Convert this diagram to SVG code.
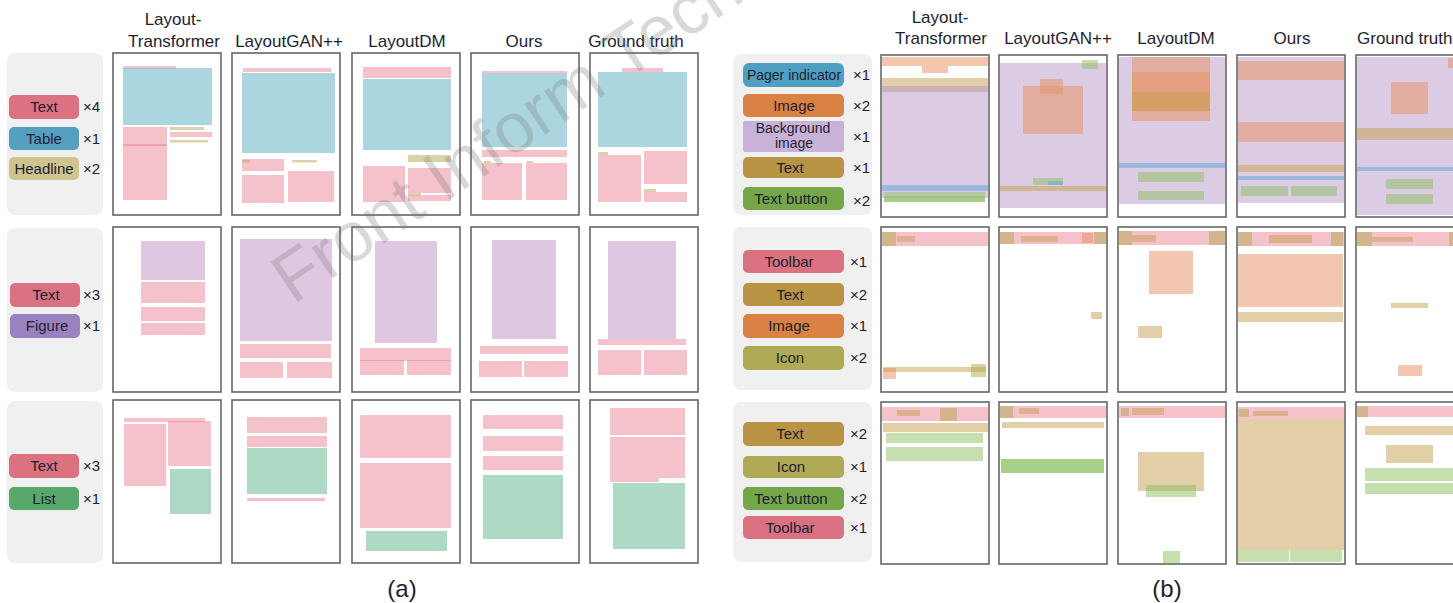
<svg xmlns="http://www.w3.org/2000/svg" width="1453" height="603" viewBox="0 0 1453 603">
<style>
text{font-family:"Liberation Sans",Arial,sans-serif;fill:#1e1e30}
.hd{font-size:17px;text-anchor:middle}
.lb{font-size:15px;text-anchor:middle}
.mx{font-size:15px}
.cap{font-size:24px;text-anchor:middle}
.lg{fill:#f0f0f0}
.fr{fill:#fff}
.fo{fill:none;stroke:#666;stroke-width:1.6}
.t{fill:#e8758a;fill-opacity:.45}
.tb{fill:#5aaec0;fill-opacity:.5}
.hl{fill:#b8a850;fill-opacity:.5}
.fg{fill:#c090c4;fill-opacity:.5}
.ls{fill:#5cb48c;fill-opacity:.5}
.bg{fill:#b898c8;fill-opacity:.5}
.im{fill:#e89060;fill-opacity:.5}
.tx{fill:#c8a050;fill-opacity:.5}
.pg{fill:#6aa8e0;fill-opacity:.55}
.bt{fill:#8cc060;fill-opacity:.5}
.ic{fill:#b0a850;fill-opacity:.5}
.pT{fill:#db7282}.pTb{fill:#559fc1}.pH{fill:#cfc48d}.pF{fill:#9a82c0}.pL{fill:#58a86c}
.pP{fill:#4f9fc2}.pI{fill:#d98244}.pB{fill:#c8b2d8}.pX{fill:#b89444}.pBt{fill:#76a64a}.pIc{fill:#aeaa56}
.wm{font-size:70px;fill:#777;fill-opacity:.28}
</style>

<!-- Column titles -->
<g id="titles">
<text class="hd" x="173" y="25">Layout-</text>
<text class="hd" x="174" y="47">Transformer</text>
<text class="hd" x="289" y="47">LayoutGAN++</text>
<text class="hd" x="407" y="47">LayoutDM</text>
<text class="hd" x="524" y="47">Ours</text>
<text class="hd" x="636" y="47">Ground truth</text>
<text class="hd" x="940" y="23">Layout-</text>
<text class="hd" x="941" y="44">Transformer</text>
<text class="hd" x="1058" y="44">LayoutGAN++</text>
<text class="hd" x="1176" y="44">LayoutDM</text>
<text class="hd" x="1292" y="44">Ours</text>
<text class="hd" x="1357" y="44" style="text-anchor:start">Ground truth</text>
</g>

<!-- ===== Panel (a) ===== -->
<g id="a-legend-1">
<rect class="lg" x="7" y="53" width="96" height="162" rx="8"/>
<rect class="pT" x="9" y="95" width="70" height="24" rx="5"/><text class="lb" x="44" y="112">Text</text><text class="mx" x="83" y="112">×4</text>
<rect class="pTb" x="9" y="127" width="70" height="23" rx="5"/><text class="lb" x="44" y="144">Table</text><text class="mx" x="83" y="144">×1</text>
<rect class="pH" x="9" y="157" width="70" height="23" rx="5"/><text class="lb" x="44" y="174">Headline</text><text class="mx" x="83" y="174">×2</text>
</g>
<g id="a-legend-2">
<rect class="lg" x="7" y="228" width="96" height="164" rx="8"/>
<rect class="pT" x="10" y="283" width="70" height="24" rx="5"/><text class="lb" x="46" y="300">Text</text><text class="mx" x="83" y="300">×3</text>
<rect class="pF" x="10" y="314" width="70" height="24" rx="5"/><text class="lb" x="47" y="331">Figure</text><text class="mx" x="83" y="331">×1</text>
</g>
<g id="a-legend-3">
<rect class="lg" x="7" y="401" width="96" height="162" rx="8"/>
<rect class="pT" x="9" y="454" width="70" height="24" rx="5"/><text class="lb" x="44" y="471">Text</text><text class="mx" x="83" y="471">×3</text>
<rect class="pL" x="9" y="487" width="70" height="23" rx="5"/><text class="lb" x="44" y="504">List</text><text class="mx" x="83" y="504">×1</text>
</g>

<!-- Row 1 (a) -->
<g id="a-r1-c1">
<rect class="fr" x="113" y="53" width="108" height="162"/>
<rect class="t" x="123" y="66" width="53" height="3"/>
<rect class="tb" x="123" y="68" width="89" height="57"/>
<rect class="t" x="123" y="127" width="44" height="19"/>
<rect class="t" x="123" y="144" width="44" height="56"/>
<rect class="hl" x="170" y="127" width="34" height="3"/>
<rect class="t" x="170" y="132" width="42" height="5"/>
<rect class="hl" x="170" y="140" width="38" height="2.5"/>
<rect class="fo" x="113" y="53" width="108" height="162"/>
</g>
<g id="a-r1-c2">
<rect class="fr" x="232" y="53" width="108" height="162"/>
<rect class="t" x="243" y="68" width="88" height="4"/>
<rect class="tb" x="242" y="73" width="93" height="80"/>
<rect class="t" x="242" y="159" width="42" height="12"/>
<rect class="hl" x="242" y="160" width="8" height="2.5"/>
<rect class="hl" x="292" y="160" width="25" height="2.5"/>
<rect class="t" x="242" y="175" width="42" height="28"/>
<rect class="t" x="288" y="171" width="46" height="31"/>
<rect class="fo" x="232" y="53" width="108" height="162"/>
</g>
<g id="a-r1-c3">
<rect class="fr" x="352" y="53" width="108" height="162"/>
<rect class="t" x="363" y="67" width="88" height="11"/>
<rect class="tb" x="363" y="79" width="88" height="71"/>
<rect class="hl" x="408" y="155" width="43" height="7"/>
<rect class="t" x="363" y="166" width="42" height="36"/>
<rect class="t" x="408" y="168" width="43" height="25"/>
<rect class="hl" x="408" y="193" width="13" height="2.5"/>
<rect class="t" x="408" y="195" width="43" height="6"/>
<rect class="fo" x="352" y="53" width="108" height="162"/>
</g>
<g id="a-r1-c4">
<rect class="fr" x="471" y="53" width="108" height="162"/>
<rect class="t" x="482" y="71" width="85" height="2"/>
<rect class="tb" x="482" y="73" width="85" height="74"/>
<rect class="t" x="482" y="150" width="85" height="7"/>
<rect class="hl" x="484" y="161" width="7" height="2"/>
<rect class="hl" x="527" y="161" width="6" height="2"/>
<rect class="t" x="482" y="163" width="40" height="37"/>
<rect class="t" x="526" y="163" width="41" height="37"/>
<rect class="fo" x="471" y="53" width="108" height="162"/>
</g>
<g id="a-r1-c5">
<rect class="fr" x="590" y="53" width="108" height="162"/>
<rect class="t" x="622" y="68" width="41" height="4"/>
<rect class="tb" x="598" y="72" width="89" height="75"/>
<rect class="hl" x="598" y="152" width="10" height="3"/>
<rect class="t" x="598" y="155" width="43" height="47"/>
<rect class="t" x="644" y="151" width="43" height="33"/>
<rect class="hl" x="644" y="189" width="12" height="3"/>
<rect class="t" x="644" y="192" width="43" height="10"/>
<rect class="fo" x="590" y="53" width="108" height="162"/>
</g>

<!-- Row 2 (a) -->
<g id="a-r2-c1">
<rect class="fr" x="113" y="227" width="108" height="165"/>
<rect class="fg" x="141" y="241" width="64" height="39"/>
<rect class="t" x="141" y="282" width="64" height="21"/>
<rect class="t" x="141" y="307" width="64" height="14"/>
<rect class="t" x="141" y="323" width="64" height="12"/>
<rect class="fo" x="113" y="227" width="108" height="165"/>
</g>
<g id="a-r2-c2">
<rect class="fr" x="232" y="227" width="108" height="165"/>
<rect class="fg" x="240" y="239" width="92" height="102"/>
<rect class="t" x="240" y="344" width="91" height="14"/>
<rect class="t" x="240" y="362" width="43" height="16"/>
<rect class="t" x="287" y="362" width="45" height="16"/>
<rect class="fo" x="232" y="227" width="108" height="165"/>
</g>
<g id="a-r2-c3">
<rect class="fr" x="352" y="227" width="108" height="165"/>
<rect class="fg" x="375" y="241" width="62" height="102"/>
<rect class="t" x="360" y="348" width="91" height="13"/>
<rect class="t" x="360" y="360" width="44" height="15"/>
<rect class="t" x="407" y="360" width="44" height="15"/>
<rect class="fo" x="352" y="227" width="108" height="165"/>
</g>
<g id="a-r2-c4">
<rect class="fr" x="471" y="227" width="108" height="165"/>
<rect class="fg" x="492" y="240" width="64" height="99"/>
<rect class="t" x="480" y="346" width="88" height="8"/>
<rect class="t" x="479" y="361" width="43" height="16"/>
<rect class="t" x="524" y="361" width="44" height="16"/>
<rect class="fo" x="471" y="227" width="108" height="165"/>
</g>
<g id="a-r2-c5">
<rect class="fr" x="590" y="227" width="108" height="165"/>
<rect class="fg" x="608" y="241" width="68" height="98"/>
<rect class="t" x="598" y="339" width="88" height="6"/>
<rect class="t" x="598" y="350" width="43" height="25"/>
<rect class="t" x="644" y="350" width="43" height="25"/>
<rect class="fo" x="590" y="227" width="108" height="165"/>
</g>

<!-- Row 3 (a) -->
<g id="a-r3-c1">
<rect class="fr" x="113" y="400" width="108" height="163"/>
<rect class="t" x="124" y="418" width="81" height="4"/>
<rect class="t" x="124" y="424" width="42" height="62"/>
<rect class="t" x="168" y="421" width="43" height="45"/>
<rect class="ls" x="170" y="469" width="41" height="45"/>
<rect class="fo" x="113" y="400" width="108" height="163"/>
</g>
<g id="a-r3-c2">
<rect class="fr" x="232" y="400" width="108" height="163"/>
<rect class="t" x="247" y="417" width="80" height="16"/>
<rect class="t" x="247" y="436" width="80" height="11"/>
<rect class="ls" x="247" y="448" width="80" height="46"/>
<rect class="t" x="247" y="498" width="78" height="3"/>
<rect class="fo" x="232" y="400" width="108" height="163"/>
</g>
<g id="a-r3-c3">
<rect class="fr" x="352" y="400" width="108" height="163"/>
<rect class="t" x="360" y="415" width="91" height="5"/>
<rect class="t" x="360" y="420" width="91" height="38"/>
<rect class="t" x="360" y="463" width="91" height="65"/>
<rect class="ls" x="366" y="531" width="81" height="20"/>
<rect class="fo" x="352" y="400" width="108" height="163"/>
</g>
<g id="a-r3-c4">
<rect class="fr" x="471" y="400" width="108" height="163"/>
<rect class="t" x="483" y="415" width="80" height="14"/>
<rect class="t" x="483" y="436" width="80" height="15"/>
<rect class="t" x="483" y="456" width="80" height="14"/>
<rect class="ls" x="483" y="475" width="80" height="64"/>
<rect class="fo" x="471" y="400" width="108" height="163"/>
</g>
<g id="a-r3-c5">
<rect class="fr" x="590" y="400" width="108" height="163"/>
<rect class="t" x="610" y="408" width="75" height="27"/>
<rect class="t" x="610" y="437" width="75" height="41"/>
<rect class="t" x="610" y="478" width="49" height="4"/>
<rect class="ls" x="613" y="483" width="72" height="66"/>
<rect class="fo" x="590" y="400" width="108" height="163"/>
</g>
<text id="cap-a" class="cap" x="402" y="597">(a)</text>

<!-- ===== Panel (b) ===== -->
<g id="b-legend-1">
<rect class="lg" x="733" y="54" width="139" height="161" rx="8"/>
<rect class="pP" x="743" y="63" width="101" height="24" rx="6"/><text class="lb" x="794" y="80" style="font-size:14px">Pager indicator</text><text class="mx" x="853" y="80">×1</text>
<rect class="pI" x="743" y="94" width="101" height="23" rx="5"/><text class="lb" x="794" y="111">Image</text><text class="mx" x="853" y="111">×2</text>
<rect class="pB" x="743" y="121" width="101" height="31" rx="2"/><text class="lb" x="793" y="133" style="font-size:14px">Background</text><text class="lb" x="794" y="148" style="font-size:14px">image</text><text class="mx" x="853" y="142">×1</text>
<rect class="pX" x="743" y="157" width="101" height="21" rx="5"/><text class="lb" x="790" y="173">Text</text><text class="mx" x="853" y="173">×1</text>
<rect class="pBt" x="743" y="187" width="101" height="23" rx="5"/><text class="lb" x="791" y="204">Text button</text><text class="mx" x="853" y="206">×2</text>
</g>
<g id="b-legend-2">
<rect class="lg" x="733" y="227" width="139" height="163" rx="8"/>
<rect class="pT" x="743" y="250" width="101" height="23" rx="5"/><text class="lb" x="789" y="267">Toolbar</text><text class="mx" x="850" y="267">×1</text>
<rect class="pX" x="743" y="283" width="101" height="23" rx="5"/><text class="lb" x="790" y="300">Text</text><text class="mx" x="850" y="300">×2</text>
<rect class="pI" x="743" y="314" width="101" height="24" rx="5"/><text class="lb" x="789" y="331">Image</text><text class="mx" x="850" y="331">×1</text>
<rect class="pIc" x="743" y="346" width="101" height="24" rx="5"/><text class="lb" x="790" y="363">Icon</text><text class="mx" x="850" y="363">×2</text>
</g>
<g id="b-legend-3">
<rect class="lg" x="733" y="402" width="139" height="160" rx="8"/>
<rect class="pX" x="743" y="422" width="101" height="24" rx="5"/><text class="lb" x="790" y="439">Text</text><text class="mx" x="850" y="439">×2</text>
<rect class="pIc" x="743" y="456" width="101" height="22" rx="5"/><text class="lb" x="791" y="472">Icon</text><text class="mx" x="850" y="472">×1</text>
<rect class="pBt" x="743" y="487" width="101" height="23" rx="5"/><text class="lb" x="791" y="504">Text button</text><text class="mx" x="850" y="504">×2</text>
<rect class="pT" x="743" y="516" width="101" height="23" rx="5"/><text class="lb" x="790" y="533">Toolbar</text><text class="mx" x="850" y="533">×1</text>
</g>

<!-- Row 1 (b) -->
<g id="b-r1-c1">
<rect class="fr" x="881" y="55" width="108" height="162"/>
<rect class="im" x="882" y="57" width="106" height="9"/>
<rect class="im" x="922" y="66" width="26" height="7"/>
<rect class="tx" x="882" y="78" width="106" height="14"/>
<rect class="bg" x="882" y="86" width="106" height="112"/>
<rect class="pg" x="882" y="185" width="106" height="6"/>
<rect class="bt" x="884" y="192" width="101" height="10"/>
<rect class="bt" x="884" y="196" width="101" height="6"/>
<rect class="fo" x="881" y="55" width="108" height="162"/>
</g>
<g id="b-r1-c2">
<rect class="fr" x="999" y="55" width="108" height="162"/>
<rect class="bg" x="1000" y="63" width="106" height="145"/>
<rect class="bt" x="1082" y="60" width="16" height="9"/>
<rect class="im" x="1023" y="86" width="60" height="48"/>
<rect class="im" x="1040" y="79" width="23" height="15"/>
<rect class="bt" x="1033" y="178" width="30" height="7"/>
<rect class="pg" x="1048" y="181" width="15" height="4"/>
<rect class="tx" x="1000" y="186" width="106" height="5"/>
<rect class="fo" x="999" y="55" width="108" height="162"/>
</g>
<g id="b-r1-c3">
<rect class="fr" x="1118" y="55" width="108" height="162"/>
<rect class="bg" x="1119" y="57" width="106" height="147"/>
<rect class="im" x="1132" y="57" width="78" height="64"/>
<rect class="im" x="1132" y="72" width="78" height="39"/>
<rect class="tx" x="1132" y="92" width="78" height="19"/>
<rect class="pg" x="1119" y="163" width="106" height="5"/>
<rect class="bt" x="1138" y="172" width="66" height="10"/>
<rect class="bt" x="1138" y="191" width="66" height="9"/>
<rect class="fo" x="1118" y="55" width="108" height="162"/>
</g>
<g id="b-r1-c4">
<rect class="fr" x="1237" y="55" width="108" height="162"/>
<rect class="bg" x="1238" y="57" width="106" height="146"/>
<rect class="im" x="1238" y="61" width="106" height="19"/>
<rect class="im" x="1238" y="122" width="106" height="20"/>
<rect class="tx" x="1238" y="165" width="106" height="7"/>
<rect class="pg" x="1238" y="176" width="106" height="4"/>
<rect class="bt" x="1241" y="186" width="47" height="10"/>
<rect class="bt" x="1291" y="186" width="46" height="10"/>
<rect class="fo" x="1237" y="55" width="108" height="162"/>
</g>
<g id="b-r1-c5">
<rect class="fr" x="1356" y="55" width="108" height="162"/>
<rect class="bg" x="1357" y="57" width="96" height="158"/>
<rect class="im" x="1448" y="58" width="5" height="10"/>
<rect class="im" x="1391" y="82" width="37" height="32"/>
<rect class="tx" x="1357" y="128" width="96" height="12"/>
<rect class="pg" x="1357" y="167" width="96" height="4"/>
<rect class="bt" x="1386" y="179" width="47" height="10"/>
<rect class="bt" x="1386" y="194" width="47" height="10"/>
<rect class="fo" x="1356" y="55" width="108" height="162"/>
</g>

<!-- Row 2 (b) -->
<g id="b-r2-c1">
<rect class="fr" x="881" y="227" width="108" height="165"/>
<rect class="t" x="882" y="232" width="106" height="14"/>
<rect class="ic" x="882" y="232" width="14" height="14"/>
<rect class="tx" x="897" y="236" width="18" height="6"/>
<rect class="tx" x="883" y="367" width="103" height="5"/>
<rect class="im" x="883" y="368" width="13" height="11"/>
<rect class="ic" x="971" y="364" width="15" height="13"/>
<rect class="fo" x="881" y="227" width="108" height="165"/>
</g>
<g id="b-r2-c2">
<rect class="fr" x="999" y="227" width="108" height="165"/>
<rect class="t" x="1000" y="232" width="106" height="12"/>
<rect class="ic" x="1000" y="232" width="14" height="12"/>
<rect class="tx" x="1021" y="236" width="37" height="6"/>
<rect class="im" x="1082" y="233" width="11" height="10"/>
<rect class="ic" x="1094" y="232" width="12" height="12"/>
<rect class="tx" x="1091" y="312" width="11" height="7"/>
<rect class="fo" x="999" y="227" width="108" height="165"/>
</g>
<g id="b-r2-c3">
<rect class="fr" x="1118" y="227" width="108" height="165"/>
<rect class="t" x="1119" y="231" width="106" height="14"/>
<rect class="ic" x="1119" y="231" width="13" height="14"/>
<rect class="tx" x="1132" y="235" width="24" height="7"/>
<rect class="ic" x="1209" y="231" width="16" height="14"/>
<rect class="im" x="1149" y="251" width="44" height="43"/>
<rect class="tx" x="1138" y="326" width="24" height="12"/>
<rect class="fo" x="1118" y="227" width="108" height="165"/>
</g>
<g id="b-r2-c4">
<rect class="fr" x="1237" y="227" width="108" height="165"/>
<rect class="t" x="1238" y="232" width="106" height="14"/>
<rect class="ic" x="1238" y="232" width="14" height="14"/>
<rect class="tx" x="1269" y="235" width="43" height="8"/>
<rect class="ic" x="1331" y="232" width="12" height="14"/>
<rect class="im" x="1238" y="254" width="105" height="53"/>
<rect class="tx" x="1238" y="312" width="105" height="10"/>
<rect class="fo" x="1237" y="227" width="108" height="165"/>
</g>
<g id="b-r2-c5">
<rect class="fr" x="1356" y="227" width="108" height="165"/>
<rect class="t" x="1357" y="232" width="96" height="14"/>
<rect class="ic" x="1357" y="232" width="15" height="14"/>
<rect class="tx" x="1372" y="237" width="41" height="5"/>
<rect class="ic" x="1449" y="232" width="4" height="14"/>
<rect class="tx" x="1391" y="303" width="37" height="5"/>
<rect class="im" x="1398" y="365" width="24" height="11"/>
<rect class="fo" x="1356" y="227" width="108" height="165"/>
</g>

<!-- Row 3 (b) -->
<g id="b-r3-c1">
<rect class="fr" x="881" y="402" width="108" height="162"/>
<rect class="t" x="882" y="407" width="106" height="14"/>
<rect class="tx" x="897" y="410" width="23" height="6"/>
<rect class="ic" x="940" y="408" width="17" height="13"/>
<rect class="tx" x="883" y="423" width="105" height="9"/>
<rect class="bt" x="886" y="433" width="97" height="10"/>
<rect class="bt" x="886" y="447" width="97" height="14"/>
<rect class="fo" x="881" y="402" width="108" height="162"/>
</g>
<g id="b-r3-c2">
<rect class="fr" x="999" y="402" width="108" height="162"/>
<rect class="t" x="1000" y="406" width="106" height="12"/>
<rect class="ic" x="1000" y="406" width="13" height="12"/>
<rect class="tx" x="1019" y="408" width="20" height="6"/>
<rect class="tx" x="1002" y="422" width="102" height="6"/>
<rect class="bt" x="1001" y="459" width="103" height="14"/>
<rect class="bt" x="1001" y="459" width="103" height="14"/>
<rect class="fo" x="999" y="402" width="108" height="162"/>
</g>
<g id="b-r3-c3">
<rect class="fr" x="1118" y="402" width="108" height="162"/>
<rect class="t" x="1119" y="406" width="106" height="12"/>
<rect class="ic" x="1121" y="408" width="8" height="8"/>
<rect class="tx" x="1132" y="408" width="32" height="7"/>
<rect class="tx" x="1138" y="452" width="66" height="39"/>
<rect class="bt" x="1146" y="485" width="50" height="12"/>
<rect class="bt" x="1163" y="551" width="17" height="12"/>
<rect class="fo" x="1118" y="402" width="108" height="162"/>
</g>
<g id="b-r3-c4">
<rect class="fr" x="1237" y="402" width="108" height="162"/>
<rect class="t" x="1238" y="407" width="106" height="12"/>
<rect class="ic" x="1239" y="409" width="10" height="8"/>
<rect class="tx" x="1253" y="411" width="35" height="5"/>
<rect class="tx" x="1238" y="419" width="106" height="131"/>
<rect class="bt" x="1238" y="550" width="51" height="12"/>
<rect class="bt" x="1290" y="550" width="52" height="12"/>
<rect class="fo" x="1237" y="402" width="108" height="162"/>
</g>
<g id="b-r3-c5">
<rect class="fr" x="1356" y="402" width="108" height="162"/>
<rect class="t" x="1357" y="406" width="96" height="11"/>
<rect class="ic" x="1357" y="406" width="11" height="11"/>
<rect class="tx" x="1365" y="426" width="88" height="9"/>
<rect class="tx" x="1386" y="445" width="47" height="18"/>
<rect class="bt" x="1365" y="468" width="88" height="13"/>
<rect class="bt" x="1365" y="483" width="88" height="11"/>
<rect class="fo" x="1356" y="402" width="108" height="162"/>
</g>
<text id="cap-b" class="cap" x="1167" y="597">(b)</text>

<!-- watermark -->
<text class="wm" transform="translate(293,305) rotate(-34)">Front Inform Tech</text>
</svg>
